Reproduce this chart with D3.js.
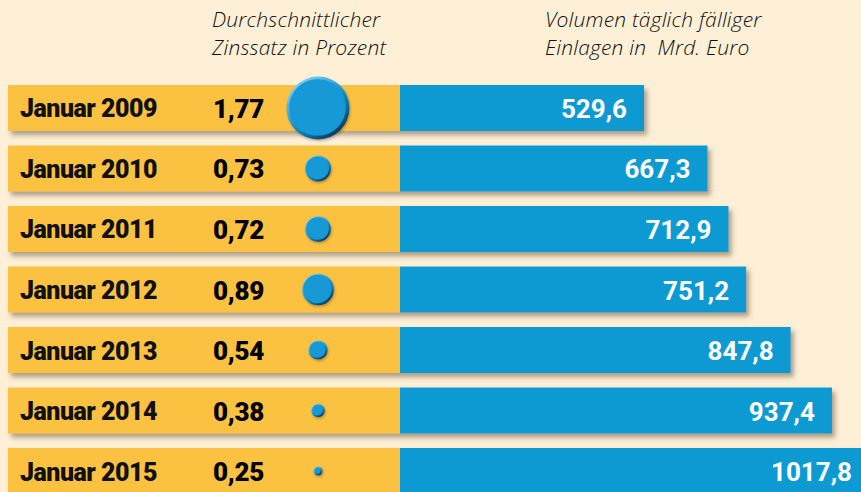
<!DOCTYPE html>
<html><head><meta charset="utf-8">
<script src="https://cdn.jsdelivr.net/npm/d3@7"></script>
<style>
html,body{margin:0;padding:0;background:#FEEFD7;}
svg{display:block;}
</style></head><body>
<script>
const categories = ["Januar 2009","Januar 2010","Januar 2011","Januar 2012","Januar 2013","Januar 2014","Januar 2015"];
const rates = [1.77, 0.73, 0.72, 0.89, 0.54, 0.38, 0.25];
const volumes = [529.6, 667.3, 712.9, 751.2, 847.8, 937.4, 1017.8];
const header1 = ["Durchschnittlicher","Zinssatz in Prozent"];
const header2 = ["Volumen täglich fälliger","Einlagen in  Mrd. Euro"];

const W = 861, H = 492;
const fmt = v => v.toFixed(v >= 10 ? 1 : 2).replace(".", ",");

const svg = d3.select("body").append("svg").attr("width", W).attr("height", H);
svg.append("rect").attr("width", W).attr("height", H).attr("fill", "#FEEFD7");

const defs = svg.append("defs");
const sh = defs.append("filter").attr("id","sh").attr("x","-5%").attr("y","-30%").attr("width","115%").attr("height","180%");
sh.append("feDropShadow").attr("dx",3).attr("dy",4).attr("stdDeviation",2.5).attr("flood-color","#6b5a3c").attr("flood-opacity",0.55);
const lg = defs.append("linearGradient").attr("id","bev").attr("x1","20%").attr("y1","10%").attr("x2","80%").attr("y2","90%");
lg.append("stop").attr("offset","0%").attr("stop-color","#7ccdf0");
lg.append("stop").attr("offset","45%").attr("stop-color","#1a9ad6");
lg.append("stop").attr("offset","75%").attr("stop-color","#0c6fa3");
lg.append("stop").attr("offset","100%").attr("stop-color","#073a5a");
const bsh = defs.append("filter").attr("id","bsh").attr("x","-30%").attr("y","-30%").attr("width","170%").attr("height","170%");
bsh.append("feDropShadow").attr("dx",1).attr("dy",1.5).attr("stdDeviation",1).attr("flood-color","#3a2e1c").attr("flood-opacity",0.35);

const y = d3.scaleBand().domain(categories).range([85, 494]).paddingInner(0.24).paddingOuter(0);
const x = d3.scaleLinear().domain([0, 1017.8]).range([400, 869]);
const r = d3.scaleLinear().domain([0, 1.77]).range([0, 31.5]);

const rows = svg.selectAll("g.row").data(categories).join("g").attr("class","row");

rows.append("g").attr("filter","url(#sh)").each(function(c, i){
  const g = d3.select(this);
  g.append("rect").attr("x", 8).attr("y", y(c)).attr("width", x(0) - 8).attr("height", y.bandwidth()).attr("fill", "#FBC243");
  g.append("rect").attr("x", x(0)).attr("y", y(c)).attr("width", x(volumes[i]) - x(0)).attr("height", y.bandwidth()).attr("fill", "#0E9AD2");
});

rows.append("text").attr("x", 20).attr("y", c => y(c) + y.bandwidth()/2 + 1)
  .attr("dominant-baseline","central")
  .style("font-family","Roboto, 'Liberation Sans', sans-serif").style("font-weight", 900)
  .style("font-size","25px").style("letter-spacing","-0.5px").attr("fill","#111")
  .text(c => c);

rows.append("text").attr("x", 213).attr("y", c => y(c) + y.bandwidth()/2 + 1)
  .attr("dominant-baseline","central")
  .style("font-family","Roboto, 'Liberation Sans', sans-serif").style("font-weight", 900)
  .style("font-size","26px").style("letter-spacing","-0.3px").attr("fill","#000")
  .text((c, i) => fmt(rates[i]));

const bub = rows.append("g").attr("filter","url(#bsh)");
bub.append("circle").attr("cx", 318).attr("cy", c => y(c) + y.bandwidth()/2)
  .attr("r", (c, i) => r(rates[i])).attr("fill","url(#bev)");
bub.append("circle").attr("cx", 317.5).attr("cy", c => y(c) + y.bandwidth()/2 - 0.5)
  .attr("r", (c, i) => Math.max(0.5, r(rates[i]) - Math.max(1.5, r(rates[i]) * 0.1)))
  .attr("fill","#1299D5");

rows.append("text").attr("x", (c, i) => x(volumes[i]) - 17).attr("y", c => y(c) + y.bandwidth()/2 + 1)
  .attr("text-anchor","end").attr("dominant-baseline","central")
  .style("font-family","Roboto, 'Liberation Sans', sans-serif").style("font-weight", 700)
  .style("font-size","26px").attr("fill","#fff")
  .text((c, i) => fmt(volumes[i]));

function header(lines, x0){
  svg.append("g").selectAll("text").data(lines).join("text")
    .attr("x", x0).attr("y", (d, i) => 27 + i*28)
    .style("font-family","'Open Sans', sans-serif").style("font-style","italic").style("font-weight",300)
    .style("font-size","21px").style("letter-spacing","0.2px").attr("fill","#111").attr("xml:space","preserve")
    .style("white-space","pre").text(d => d);
}
header(header1, 212);
header(header2, 545);
</script>
</body></html>
